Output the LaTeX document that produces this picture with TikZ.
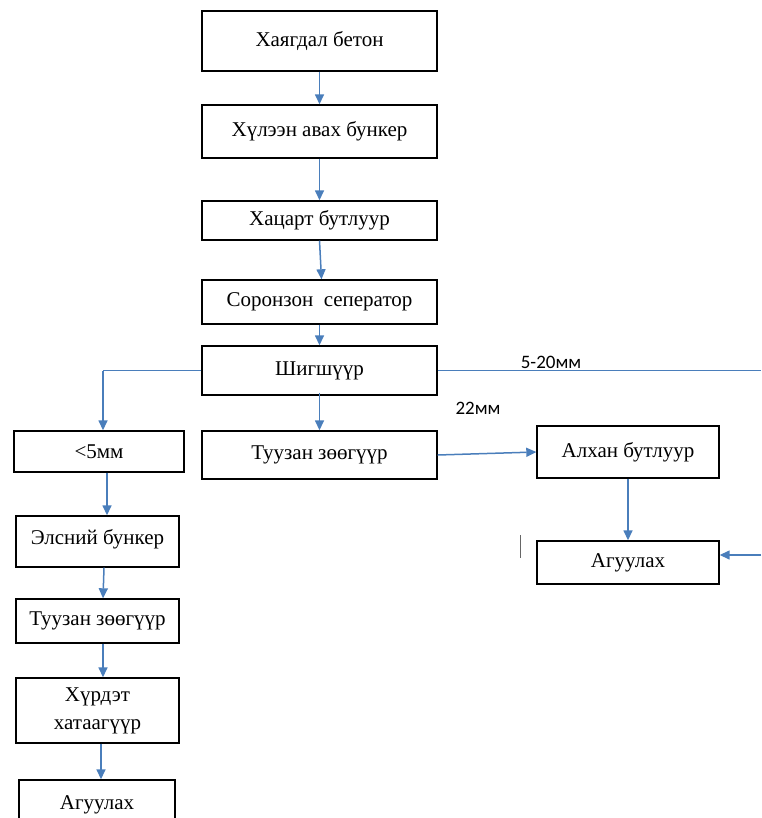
\documentclass[tikz,border=0pt]{standalone}
\usepackage{fontspec}
\setmainfont{Liberation Serif}
\newfontfamily\lblfont{Carlito}
\usetikzlibrary{arrows.meta,positioning}
\definecolor{flow}{HTML}{4A7EBB}
\tikzset{
  stage/.style ={draw=black,line width=1.4pt,align=center,font=\fontsize{21}{28}\selectfont,
                 inner sep=2pt},
  a/.style     ={-{Triangle[length=10pt,width=9pt]},line width=1.5pt,flow},
  ln/.style    ={line width=1.5pt,flow},
  lbl/.style   ={font=\lblfont\fontsize{19}{21}\selectfont,inner sep=0pt},
}
\begin{document}
\begin{tikzpicture}[x=1pt,y=-1pt]
  \useasboundingbox (0,0) rectangle (761,818);

  % main line
  \node[stage,minimum width=235pt,minimum height=60pt] (waste) at (319.5,41) {Хаягдал бетон};
  \node[stage,minimum width=235pt,minimum height=53pt] (hopper) at (319.5,131.5) {Хүлээн авах бункер};
  \node[stage,minimum width=235pt,minimum height=39pt] (jaw) at (319.5,220.5) {Хацарт бутлуур};
  \node[stage,minimum width=235pt,minimum height=44pt] (magnet) at (319.5,302) {Соронзон \ сеператор};
  \node[stage,minimum width=235pt,minimum height=49pt] (screen) at (319.5,370.5) {Шигшүүр};
  \node[stage,minimum width=235pt,minimum height=48pt] (belt) at (319.5,455) {Туузан зөөгүүр};
  \draw[a] (waste) -- (hopper);
  \draw[a] (hopper) -- (jaw);
  \draw[a] (jaw.south) -- ([xshift=2pt]magnet.north);
  \draw[a] (magnet) -- (screen);
  \draw[a] ([yshift=3pt]screen.south) -- (belt);

  % fine fraction
  \node[stage,minimum width=170pt,minimum height=41pt] (fine) at (99,451.5) {<5мм};
  \node[stage,minimum width=163pt,minimum height=51pt,text depth=10pt] (sand) at (97.5,541.5) {Элсний бункер};
  \node[stage,minimum width=163pt,minimum height=44pt] (belt2) at (97.5,621) {Туузан зөөгүүр};
  \node[stage,minimum width=163pt,minimum height=65pt] (dryer) at (97.5,710.5) {Хүрдэт\\хатаагүүр};
  \node[stage,minimum width=156pt,minimum height=50pt] (store2) at (97,805) {Агуулах};
  \draw[ln] (screen.west) -- (103,370.5) coordinate (lturn);
  \draw[a] (lturn) -- (lturn |- fine.north);
  \draw[a] ([xshift=8pt]fine.south) -- ([xshift=9.5pt]sand.north);
  \draw[a] ([xshift=6.5pt]sand.south) -- ([xshift=5.5pt]belt2.north);
  \draw[a] ([xshift=5.5pt]belt2.south) -- ([xshift=5.5pt]dryer.north);
  \draw[a] ([xshift=3.5pt]dryer.south) -- ([xshift=4pt]store2.north);

  % coarse fraction
  \node[stage,minimum width=182pt,minimum height=52pt] (hammer) at (628,452) {Алхан бутлуур};
  \node[stage,minimum width=182pt,minimum height=43pt] (store1) at (628,562.5) {Агуулах};
  \coordinate (redge) at (761,370.5);
  \coordinate (rin) at (761,555);
  \draw[ln] (screen.east) -- (redge);
  \draw[a] (belt.east) -- (hammer.west);
  \draw[a] (hammer.south) -- (store1.north);
  \draw[a] (rin) -- (rin -| store1.east);
  \node[lbl] (mid) at (551,362) {5-20мм};
  \node[lbl] (big) at (478,408) {22мм};
  \draw[line width=1pt,black!60] (520,535) -- (520,558);
\end{tikzpicture}
\end{document}
